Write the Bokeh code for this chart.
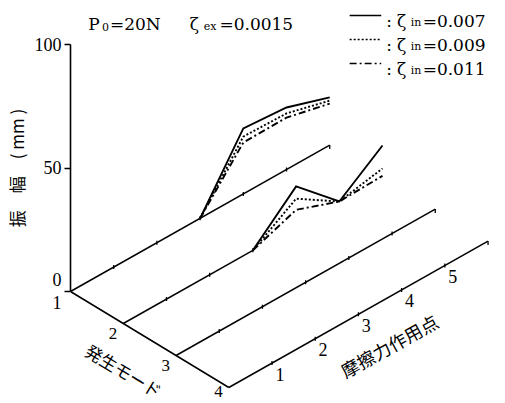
from bokeh.plotting import figure
from bokeh.models import Range1d, LinearAxis, FixedTicker, Label
from bokeh.embed import file_html
from bokeh.resources import INLINE
import math

# ---------------- data ----------------
modes = [1, 2, 3, 4]                 # 発生モード
points_axis = [0, 6]                 # extent of friction-point axis
point_ticks = [1, 2, 3, 4, 5]        # 摩擦力作用点 ticks
point_tick_labels = ["1", "2", "3", "4", "5"]
mode_labels = ["1", "2", "3", "4"]
amp_ticks = [0, 50, 100]             # 振幅 (mm)
series_names = ["0.007", "0.009", "0.011"]

curve_points = [3, 4, 5, 6]
mode1_007 = [0.0, 26.5, 25.1, 19.3]
mode1_009 = [0.0, 23.2, 22.7, 18.0]
mode1_011 = [0.0, 20.8, 21.0, 16.8]
mode2_007 = [0.0, 16.0, 0.0, 12.8]
mode2_009 = [0.0, 11.0, 0.0, 3.5]
mode2_011 = [0.0, 6.5, 0.0, 0.5]
mode2_base_end = 3

# ---------------- layout (oblique projection) ----------------
OX, OY = 64, 291          # canvas px of origin (mode 1, point 0, amp 0)
MX, MY = 53.5, 32.0       # px per mode step
PX, PY = 43.8, -24.4      # px per friction point
K = 2.47                  # px per mm
W, H = 505, 403

def proj(m, p, a):
    return ((m - 1) * MX + p * PX, a - ((m - 1) * MY + p * PY) / K)

def page(xp, yp):
    return (xp - OX, (OY - yp) / K)

p = figure(width=W, height=H, output_backend="svg", toolbar_location=None,
           x_range=Range1d(0, W - OX), y_range=Range1d((OY - H) / K, OY / K),
           x_axis_location=None, y_axis_location=None,
           min_border_left=OX, min_border_right=0, min_border_top=0, min_border_bottom=0)
p.outline_line_color = None
p.xgrid.visible = False
p.ygrid.visible = False
p.background_fill_color = "white"
p.border_fill_color = "white"

# amplitude axis; the label at the origin carries the amplitude "0" and mode "1" stacked
ax = LinearAxis(ticker=FixedTicker(ticks=amp_ticks), bounds=(amp_ticks[0], amp_ticks[-1]),
                major_label_overrides={0: "0\n" + mode_labels[0]})
ax.axis_line_width = 1.6
ax.axis_line_color = "black"
ax.major_tick_line_width = 1.5
ax.major_tick_line_color = "black"
ax.major_tick_out = 6
ax.major_tick_in = 0
ax.minor_tick_line_color = None
ax.major_label_text_font = "Liberation Serif"
ax.major_label_text_font_size = "18px"
ax.major_label_text_color = "black"
ax.major_label_text_line_height = 1.15
ax.major_label_standoff = 3
# leading full-width spaces lift the (frame-centred) title to sit beside the 0-100 span
ax.axis_label = "　　　　振　幅　( mm )"
ax.axis_label_text_font = "Noto Sans CJK JP"
ax.axis_label_text_font_size = "17px"
ax.axis_label_text_font_style = "normal"
ax.axis_label_text_color = "black"
ax.axis_label_standoff = 3
p.add_layout(ax, "left")

LW = 1.5
# mode axis
xs, ys = zip(*[proj(m, 0, 0) for m in modes])
p.line(list(xs), list(ys), line_color="black", line_width=LW)

# base lines, ticks and end hooks
for m in modes:
    pend = mode2_base_end if m == 2 else points_axis[1]
    (x0, y0), (x1, y1) = proj(m, 0, 0), proj(m, pend, 0)
    p.line([x0, x1], [y0, y1], line_color="black", line_width=LW)
    for t in point_ticks:
        if t <= pend:
            tx, ty = proj(m, t, 0)
            p.segment(x0=[tx], y0=[ty - 0.8], x1=[tx], y1=[ty + 0.8], line_color="black", line_width=1.3)
    if pend == points_axis[1]:
        tx, ty = proj(m, pend, 0)
        p.segment(x0=[tx], y0=[ty], x1=[tx], y1=[ty - 1.6], line_color="black", line_width=1.3)

styles = [dict(line_dash="solid", line_width=1.9),
          dict(line_dash="2 2", line_width=1.9),
          dict(line_dash="7 3 2 3", line_width=1.9)]

for m, series in [(1, [mode1_007, mode1_009, mode1_011]), (2, [mode2_007, mode2_009, mode2_011])]:
    for vals, st in zip(series, styles):
        cx, cy = zip(*[proj(m, pt, v) for pt, v in zip(curve_points, vals)])
        p.line(list(cx), list(cy), line_color="black", line_join="miter", **st)

def lab(xp, yp, text, size="18px", font="Liberation Serif", align="center", base="middle", angle=0.0):
    x, y = page(xp, yp)
    p.add_layout(Label(x=x, y=y, text=text, text_font=font, text_font_size=size,
                       text_align=align, text_baseline=base, angle=angle, text_color="black"))

# mode labels 2..4 (mode 1 label sits with the axis' origin label)
for m, t in zip(modes[1:], mode_labels[1:]):
    x, y = proj(m, 0, 0)
    xp, yp = x + OX, OY - y * K
    lab(xp - 10.5, min(yp + 10, 391), t, size="17px")
# friction-point labels on mode 4 line
for pt, t in zip(point_ticks, point_tick_labels):
    x, y = proj(modes[-1], pt, 0)
    xp, yp = x + OX, OY - y * K
    lab(xp + 8, yp + 11, t)

# axis titles
lab(118, 370, "発生モード", size="17px", font="Noto Sans CJK JP", angle=-math.atan2(MY, MX))
lab(387, 345, "摩擦力作用点", size="18px", font="Noto Sans CJK JP", angle=math.atan2(-PY, PX))

# title pieces
TF = "DejaVu Serif"
lab(82, 23, "P", size="17px", font=TF, align="left", base="alphabetic")
lab(96, 26, "0", size="11px", font=TF, align="left", base="alphabetic")
lab(104, 23, "=20N", size="17px", font=TF, align="left", base="alphabetic")
lab(185, 23, "ζ", size="17px", font=TF, align="left", base="alphabetic")
lab(199, 26, "ex", size="11px", font=TF, align="left", base="alphabetic")
lab(215, 23, "=0.0015", size="17px", font=TF, align="left", base="alphabetic")

# legend
rows_y = [15, 39, 63]
for (yrow, st, name) in zip(rows_y, styles, series_names):
    (lx0, ly), (lx1, _) = page(347, yrow), page(379, yrow)
    p.line([lx0, lx1], [ly, ly], line_color="black", line_width=1.5, line_dash=st["line_dash"])
    lab(387, yrow + 5, ":", size="17px", font=TF, align="center", base="alphabetic")
    lab(395, yrow + 5, "ζ", size="17px", font=TF, align="left", base="alphabetic")
    lab(409, yrow + 7, "in", size="11px", font=TF, align="left", base="alphabetic")
    lab(421, yrow + 5, "=" + name, size="17px", font=TF, align="left", base="alphabetic")

open("out.html", "w").write(file_html(p, INLINE))
